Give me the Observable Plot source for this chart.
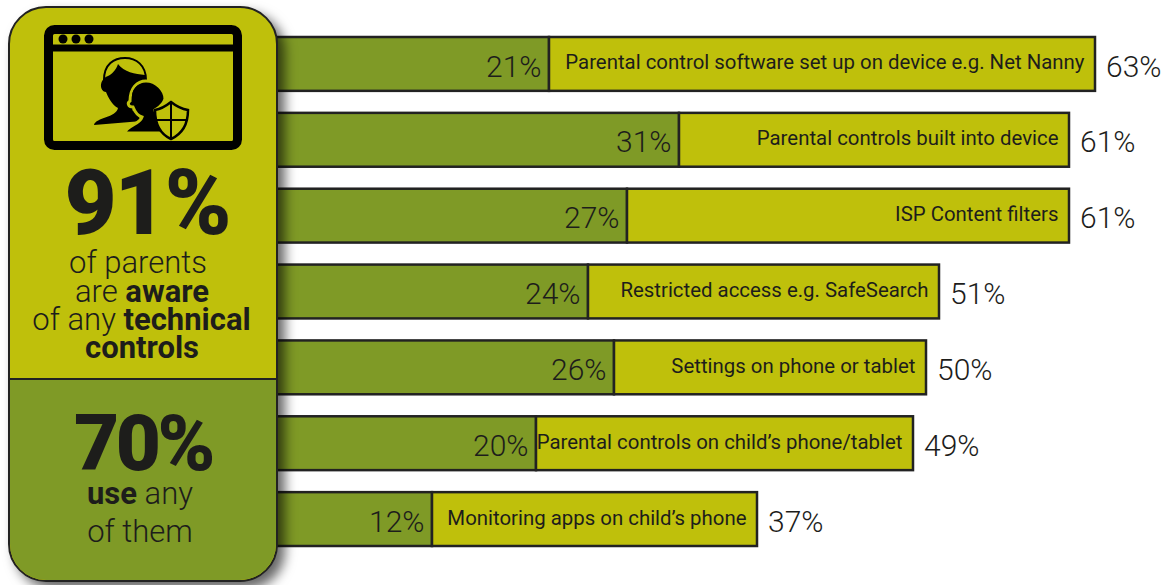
<!DOCTYPE html>
<html><head><meta charset="utf-8">
<script src="https://cdn.jsdelivr.net/npm/d3@7"></script>
<script src="https://cdn.jsdelivr.net/npm/@observablehq/plot@0.6"></script>
<style>
html,body{margin:0;padding:0;background:#fff}
#wrap{position:relative;width:1165px;height:585px;overflow:hidden;font-family:Roboto,sans-serif;color:#1d1d1b}
#wrap svg.plot{position:absolute;left:0;top:0}
#panel{position:absolute;left:8px;top:6px;width:270px;height:576px;box-sizing:border-box;border:2.5px solid #222;border-radius:38px;overflow:hidden;background:#bfc00b;box-shadow:7px 7px 12px rgba(0,0,0,.6)}
#lower{position:absolute;left:0;right:0;top:369.500px;bottom:0;background:#7f9a26;border-top:2.5px solid #222}
.t{position:absolute;width:100%;text-align:center;white-space:nowrap}
.t b{font-weight:700}
.big{font-weight:900;line-height:.75}
.m{font-size:31px;font-weight:300;line-height:.85}
#icon{position:absolute;left:28.500px;top:14.500px}
</style></head><body>
<div id="wrap"><div id="chart"></div>
<div id="panel">
<svg id="icon" width="210" height="135" viewBox="0 0 210 135">
 <g transform="translate(-39,-23)">
 <rect x="48.500" y="29.500" width="189" height="116" rx="6" fill="none" stroke="#000" stroke-width="9"/>
 <path d="M48 48H238" stroke="#000" stroke-width="7"/>
 <circle cx="63" cy="39" r="4.500"/><circle cx="76" cy="39" r="4.500"/><circle cx="89" cy="39" r="4.500"/>
 <path d="M104 80C104 64 114 58 125 58C136 58 146 65 146 80" fill="none" stroke="#000" stroke-width="2"/>
 <path d="M108 76C112 74 116 70 118 64C124 72 135 74 145 75C146 90 140 104 132 110C138 113 139 118 142 121L94 125C96 117 116 118 118 108C112 105 108 97 106 92C100 92 98 80 108 76Z"/>
 <path d="M130 101C130 88 137 81 146 81C156 81 165 90 165 99C163 106 158 108 155 110C156 118 162 120 168 133L124 133C128 125 140 124 142 117C138 116 135 112 133 107C128 107 127 103 130 101Z" stroke="#bfc00b" stroke-width="3"/>
 <path d="M133 95C134 88 140 84 146 84C153 84 160 90 161 96" fill="none" stroke="#000" stroke-width="2"/>
 <path d="M171 102C176 106 182 109 188 110C188 124 182 134 171 139C160 134 155 124 155 110C161 109 166 106 171 102Z" fill="#bfc00b" stroke="#000" stroke-width="2.500"/>
 <path d="M171 103V138M156 120H187" stroke="#000" stroke-width="2"/>
 </g>
</svg>
<div class="t big" style="top:162px;left:4px;font-size:90px;letter-spacing:-2px">91%</div>
<div class="t m" style="top:242.300px;left:-5px">of parents</div>
<div class="t m" style="top:271.300px;left:-1px">are <b>aware</b></div>
<div class="t m" style="top:299.300px;left:-1.500px">of any <b>technical</b></div>
<div class="t m" style="top:327.300px;left:-1px"><b>controls</b></div>
<div id="lower"></div>
<div class="t big" style="top:406.700px;left:0px;font-size:78px;letter-spacing:-3.500px">70%</div>
<div class="t m" style="top:473.300px;left:-3px"><b>use</b> any</div>
<div class="t m" style="top:511.300px;left:-3px">of them</div>
</div></div>
<script>
const labels = ["Parental control software set up on device e.g. Net Nanny","Parental controls built into device","ISP Content filters","Restricted access e.g. SafeSearch","Settings on phone or tablet","Parental controls on child\u2019s phone/tablet","Monitoring apps on child\u2019s phone"];
const usePct = [21,31,27,24,26,20,12];
const awarePct = [63,61,61,51,50,49,37];
const rows = labels.map((label,i)=>({label,use:usePct[i],aware:awarePct[i]}));
const ink = "#1d1d1b", stroke = "#222", green = "#7f9a26", yellow = "#bfc00b";
const font = 'Roboto,sans-serif';
const chart = Plot.plot({
  width:1165,height:585,margin:0,marginLeft:276,
  style:{background:"transparent",fontFamily:font},
  x:{domain:[0,889/13],axis:null},
  y:{domain:labels,range:[37,546],paddingInner:0.29,paddingOuter:0,round:false,axis:null},
  marks:[
    Plot.barX(rows,{x1:0,x2:"use",y:"label",fill:green,stroke,strokeWidth:2.5}),
    Plot.barX(rows,{x1:"use",x2:"aware",y:"label",fill:yellow,stroke,strokeWidth:2.5}),
    Plot.text(rows,{x:"use",y:"label",text:d=>d.use+"%",textAnchor:"end",dx:-8,dy:2.5,fontSize:30,fontWeight:300,fill:ink}),
    Plot.text(rows,{x:"aware",y:"label",text:"label",textAnchor:"end",dx:-11,dy:-1.5,fontSize:20.4,fill:ink}),
    Plot.text(rows,{x:"aware",y:"label",text:d=>d.aware+"%",textAnchor:"start",dx:10.5,dy:2.5,fontSize:30,fontWeight:300,fill:ink})
  ]
});
document.getElementById("chart").append(chart);
</script></body></html>
